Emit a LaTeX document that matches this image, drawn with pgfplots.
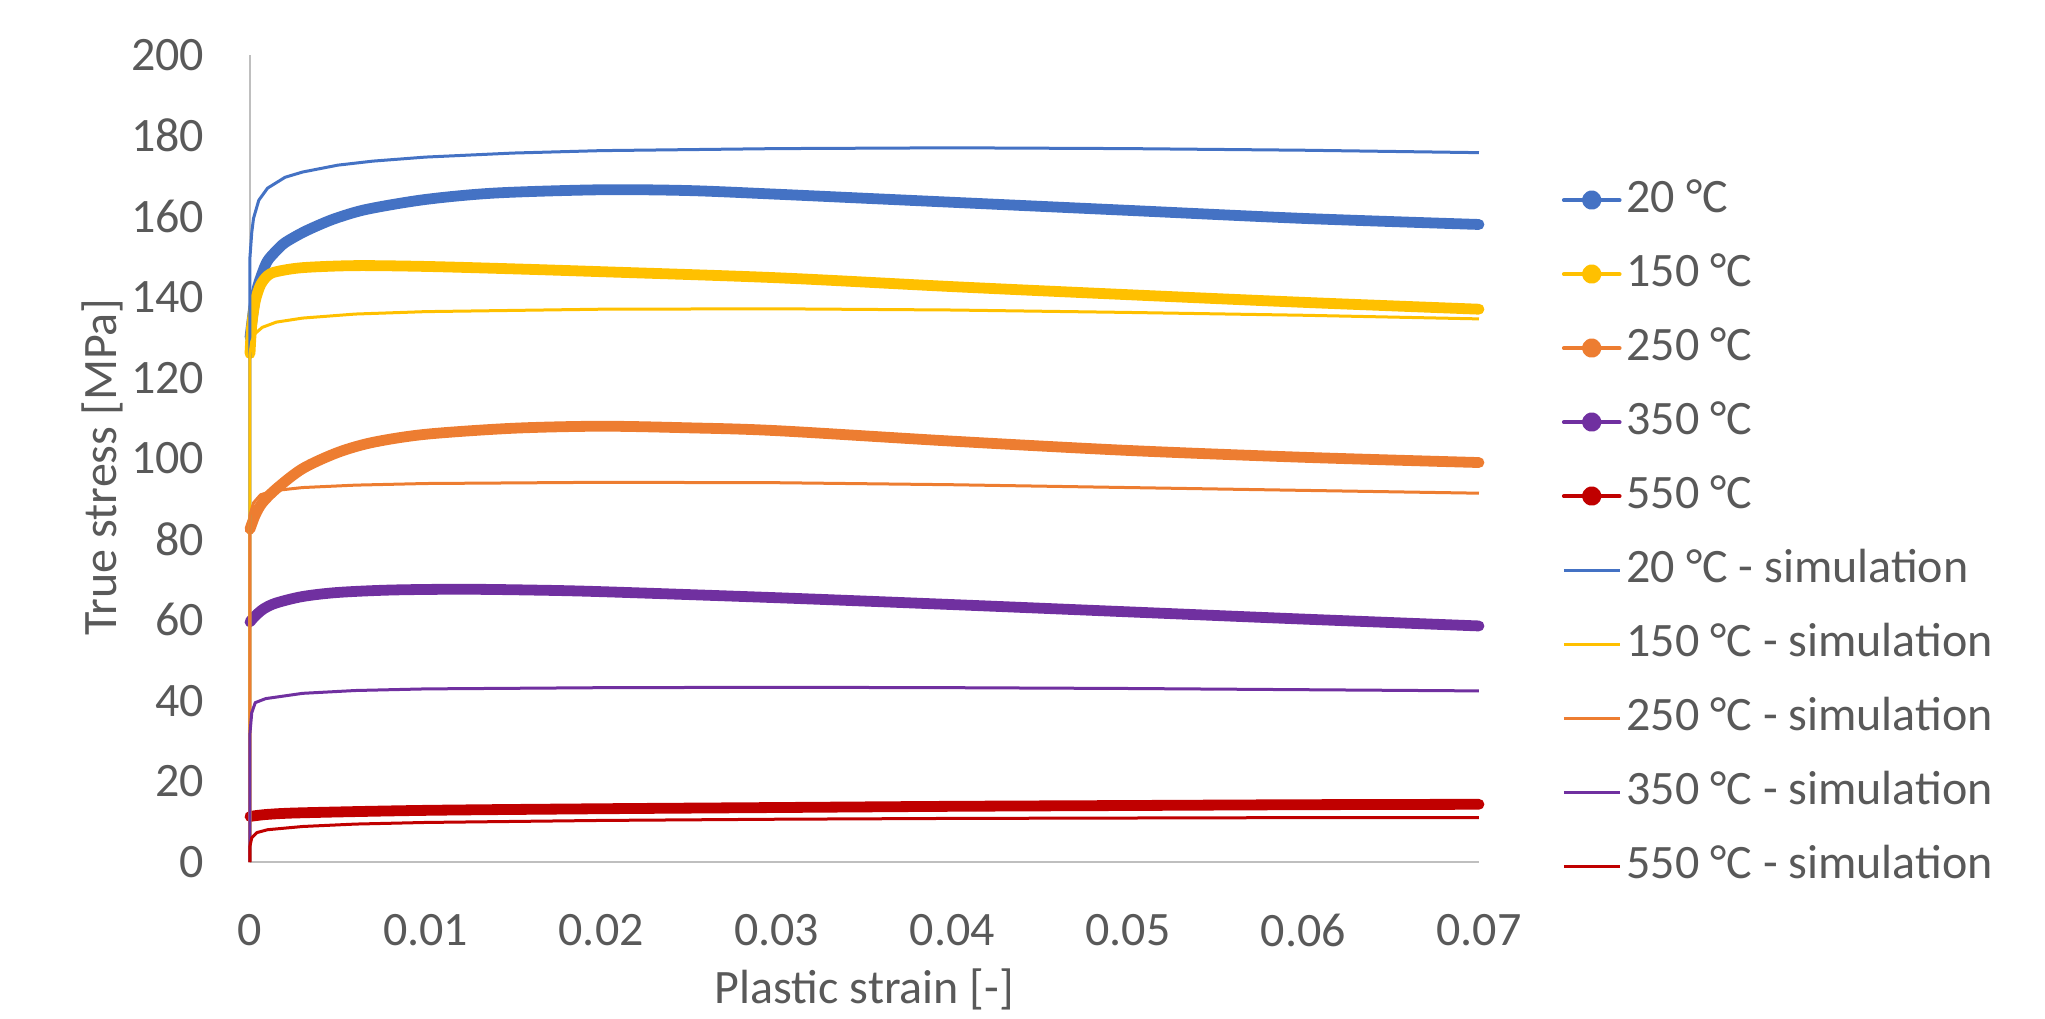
\documentclass[border=0pt]{standalone}
\usepackage{pgfplots}
\pgfplotsset{compat=1.18}
\usepackage{fontspec}
\setmainfont{Carlito}
\definecolor{cB}{HTML}{4472C4}
\definecolor{cY}{HTML}{FFC000}
\definecolor{cO}{HTML}{ED7D31}
\definecolor{cP}{HTML}{7030A0}
\definecolor{cR}{HTML}{C00000}
\definecolor{txt}{HTML}{595959}
\definecolor{axl}{HTML}{BFBFBF}
\pgfplotsset{
  expstyle/.style={line width=2.7pt, line cap=round, line join=round, no marks, smooth, tension=0.5,
    legend image code/.code={\draw[line width=0.9pt,line cap=round] (0pt,0pt) -- (14pt,0pt); \fill (7pt,0pt) circle (1.1pt);}},
  simstyle/.style={line width=0.75pt, line join=round, no marks,
    legend image code/.code={\draw[line width=0.75pt] (0pt,0pt) -- (14pt,0pt);}},
}
\begin{document}
\begin{tikzpicture}
\useasboundingbox (-62.5pt,-39pt) rectangle (448.75pt,215.5pt);
\begin{axis}[
  at={(0,0)}, anchor=south west,
  scale only axis, width=307.25pt, height=201.75pt,
  xmin=0, xmax=0.07, ymin=0, ymax=200,
  clip=false,
  axis x line*=bottom, axis y line*=left,
  axis line style={draw=axl, line width=0.7pt, -},
  xtick={0,0.01,0.02,0.03,0.04,0.05,0.06,0.07},
  xticklabels={0,0.01,0.02,0.03,0.04,0.05,0.06,0.07},
  scaled x ticks=false, scaled y ticks=false,
  ytick={0,20,40,60,80,100,120,140,160,180,200},
  major tick length=0pt,
  tick style={draw=none},
  /pgf/number format/assume math mode=true,
  every tick label/.append style={font=\fontsize{12}{14.4}\selectfont, text=txt},
  xticklabel style={anchor=north, inner sep=0pt, yshift=-12.9pt},
  yticklabel style={anchor=east, inner sep=0pt, xshift=-11.25pt},
  label style={font=\fontsize{12}{14.4}\selectfont, text=txt},
  xlabel={Plastic strain [-]},
  ylabel={True stress [MPa]},
  xlabel style={at={(axis description cs:0.5,-0.158)}, anchor=center},
  ylabel style={at={(axis description cs:-0.1204,0.4895)}, anchor=center},
  legend cell align=left,
  legend style={draw=none, fill=none, at={(axis description cs:1.0675,0.850)}, anchor=north west,
    inner sep=0pt, outer sep=0pt, row sep=6.5pt, column sep=1.25pt,
    font=\fontsize{12}{14.4}\selectfont,
    nodes={inner sep=0pt, text height=9pt, text depth=3pt, text=txt}},
]
% experiments
\addplot[expstyle, color=cB] coordinates {
(0,130) (0.0002,137) (0.0004,142) (0.0007,146) (0.001,149) (0.0015,151.5) (0.002,153.5)
(0.003,156) (0.004,158) (0.005,159.7) (0.0067,161.8) (0.01,164.2) (0.014,165.8) (0.02,166.6)
(0.025,166.4) (0.03,165.5) (0.035,164.5) (0.04,163.5) (0.05,161.5) (0.06,159.5) (0.07,158)};
\addlegendentry{20 °C}
\addplot[expstyle, color=cY] coordinates {
(0,126) (0.0001,133) (0.0003,139) (0.0006,143) (0.001,145.3) (0.0015,146.3) (0.003,147.3)
(0.006,147.8) (0.01,147.6) (0.015,147) (0.02,146.3) (0.03,144.8) (0.04,142.6) (0.05,140.6)
(0.06,138.7) (0.07,137)};
\addlegendentry{150 °C}
\addplot[expstyle, color=cO] coordinates {
(0,82.5) (0.0003,86) (0.0007,89) (0.0015,92.5) (0.003,97.5) (0.005,101.5) (0.007,104)
(0.01,106) (0.015,107.5) (0.02,108) (0.025,107.6) (0.03,106.9) (0.04,104.3) (0.05,102)
(0.06,100.3) (0.07,99)};
\addlegendentry{250 °C}
\addplot[expstyle, color=cP] coordinates {
(0,59.5) (0.0003,61) (0.0008,62.8) (0.0015,64.2) (0.003,65.8) (0.005,66.8) (0.008,67.4)
(0.012,67.6) (0.016,67.4) (0.02,67) (0.03,65.5) (0.04,63.8) (0.05,62) (0.06,60.2) (0.07,58.5)};
\addlegendentry{350 °C}
\addplot[expstyle, color=cR] coordinates {
(0,11.3) (0.001,11.8) (0.003,12.2) (0.01,12.8) (0.02,13.2) (0.03,13.5) (0.04,13.8)
(0.05,14) (0.06,14.2) (0.07,14.3)};
\addlegendentry{550 °C}
% simulations
\addplot[simstyle, color=cB] coordinates {
(0,0) (0,150) (0.0001,156) (0.0002,159.5) (0.0005,164) (0.001,167) (0.002,169.7) (0.003,171)
(0.005,172.7) (0.007,173.7) (0.01,174.7) (0.015,175.7) (0.02,176.3) (0.03,176.8) (0.04,177)
(0.05,176.8) (0.06,176.4) (0.07,175.8)};
\addlegendentry{20 °C - simulation}
\addplot[simstyle, color=cY] coordinates {
(0,0) (0,126) (0.0001,129) (0.0003,131) (0.0007,132.5) (0.0015,133.8) (0.003,134.8)
(0.006,135.8) (0.01,136.4) (0.02,137) (0.03,137.1) (0.04,136.8) (0.05,136.2) (0.06,135.5) (0.07,134.6)};
\addlegendentry{150 °C - simulation}
\addplot[simstyle, color=cO] coordinates {
(0,0) (0,86) (0.0002,89) (0.0006,91) (0.0013,92) (0.003,92.8) (0.006,93.4) (0.01,93.8)
(0.02,94.1) (0.03,94) (0.04,93.5) (0.05,92.8) (0.06,92.1) (0.07,91.4)};
\addlegendentry{250 °C - simulation}
\addplot[simstyle, color=cP] coordinates {
(0,0) (0,32) (0.0001,37) (0.0003,39.5) (0.0009,40.5) (0.003,41.8) (0.006,42.5) (0.01,42.9)
(0.02,43.2) (0.03,43.3) (0.04,43.2) (0.05,43) (0.06,42.7) (0.07,42.4)};
\addlegendentry{350 °C - simulation}
\addplot[simstyle, color=cR] coordinates {
(0,0) (0,4) (0.0001,6) (0.0004,7.3) (0.001,8) (0.003,8.8) (0.006,9.4) (0.01,9.8)
(0.02,10.3) (0.03,10.6) (0.04,10.8) (0.05,10.9) (0.06,11) (0.07,11)};
\addlegendentry{550 °C - simulation}
\end{axis}
\end{tikzpicture}
\end{document}
